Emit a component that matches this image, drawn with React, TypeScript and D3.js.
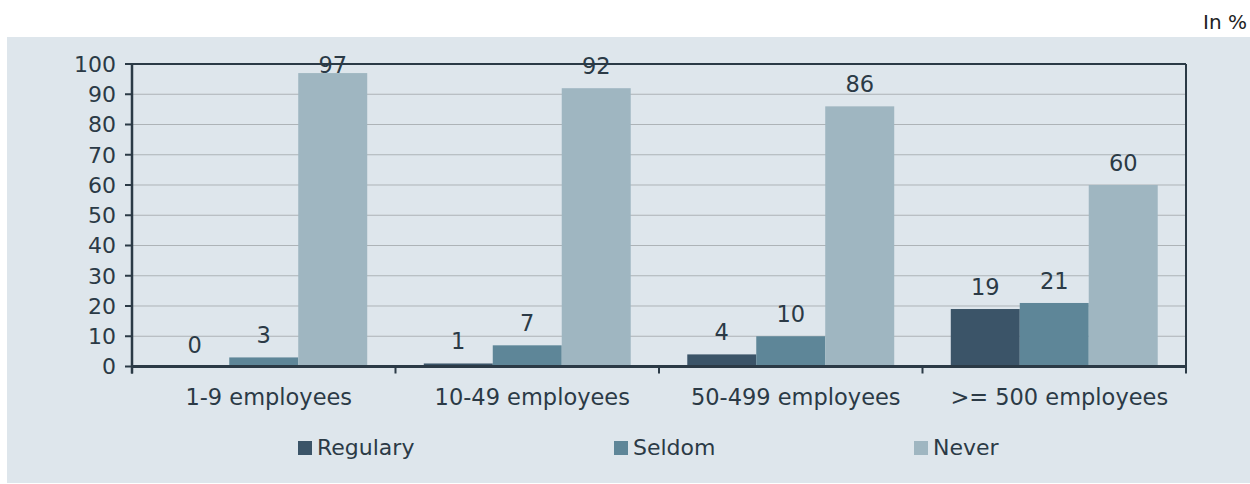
import { useMemo } from "react"
import { scaleBand, scaleLinear } from "d3"

const W = 1250, H = 484
const ML = 132, MT = 64, PR = 1186, PB = 366.5

const categories = ["1-9 employees", "10-49 employees", "50-499 employees", ">= 500 employees"]
const seriesNames = ["Regulary", "Seldom", "Never"]
const regularly = [0, 1, 4, 19]
const seldom = [3, 7, 10, 21]
const never = [97, 92, 86, 60]
const yTickValues = [0, 10, 20, 30, 40, 50, 60, 70, 80, 90, 100]

const COLORS = ["#3b5468", "#5e8698", "#9fb6c1"]
const TEXT = "#2b3a46"
const AXIS = "#2b3a46"
const FONT = "'DejaVu Sans', Verdana, sans-serif"

export default function App() {
  const series = [regularly, seldom, never]

  const { x, xInner, y } = useMemo(() => {
    const x = scaleBand<string>().domain(categories).range([ML, PR]).paddingInner(0).paddingOuter(0)
    const xInner = scaleBand<string>().domain(seriesNames).range([0, x.bandwidth()]).paddingOuter(0.41).paddingInner(0)
    const y = scaleLinear().domain([0, 100]).range([PB, MT])
    return { x, xInner, y }
  }, [])

  const legendX = [298, 614, 914]

  return (
    <svg width={W} height={H} style={{ position: "absolute", left: 0, top: 0, display: "block" }}
      fontFamily={FONT}>
      <rect x={0} y={0} width={W} height={H} fill="#fff" />
      <text x={1247} y={29} textAnchor="end" fontSize={20} fill="#222">In %</text>
      <rect x={7} y={37} width={W - 7} height={446} fill="#dee6ec" />

      {/* gridlines */}
      {yTickValues.map(t => (
        <line key={t} x1={ML} x2={PR} y1={y(t)} y2={y(t)} stroke="#adb3b7" strokeWidth={1} />
      ))}

      {/* bars */}
      {categories.map((c, ci) => (
        <g key={c} transform={`translate(${x(c)},0)`}>
          {series.map((vals, si) => {
            const v = vals[ci]
            const bx = xInner(seriesNames[si])!
            const by = y(v)
            const labelY = Math.max(by - 14, 73)
            return (
              <g key={si}>
                <rect x={bx} y={by} width={xInner.bandwidth()} height={PB - by} fill={COLORS[si]} />
                <text x={bx + xInner.bandwidth() / 2} y={labelY} textAnchor="middle" fontSize={22.5} fill={TEXT}>{v}</text>
              </g>
            )
          })}
        </g>
      ))}

      {/* plot border top/right */}
      <line x1={ML} x2={PR} y1={MT} y2={MT} stroke={AXIS} strokeWidth={2} />
      <line x1={PR} x2={PR} y1={MT} y2={PB + 7} stroke={AXIS} strokeWidth={2} />

      {/* y axis */}
      <line x1={ML} x2={ML} y1={MT - 1} y2={PB + 7} stroke={AXIS} strokeWidth={2.5} />
      {yTickValues.map(t => (
        <g key={t} transform={`translate(0,${y(t)})`}>
          <line x1={ML - 7} x2={ML} stroke={AXIS} strokeWidth={2} />
          <text x={116} dy="0.36em" textAnchor="end" fontSize={22} fill={TEXT}>{t}</text>
        </g>
      ))}

      {/* x axis */}
      <line x1={ML} x2={PR} y1={PB} y2={PB} stroke={AXIS} strokeWidth={3} />
      {categories.map(c => (
        <line key={c} x1={x(c)!} x2={x(c)!} y1={PB} y2={PB + 7} stroke={AXIS} strokeWidth={2} />
      ))}
      {categories.map(c => (
        <text key={c} x={x(c)! + x.bandwidth() / 2 + 5} y={405} textAnchor="middle" fontSize={22.5} fill={TEXT}>{c}</text>
      ))}

      {/* legend */}
      {seriesNames.map((s, i) => (
        <g key={s}>
          <rect x={legendX[i]} y={441} width={14} height={14} fill={COLORS[i]} />
          <text x={legendX[i] + 19} y={455} fontSize={22} fill={TEXT}>{s}</text>
        </g>
      ))}
    </svg>
  )
}
